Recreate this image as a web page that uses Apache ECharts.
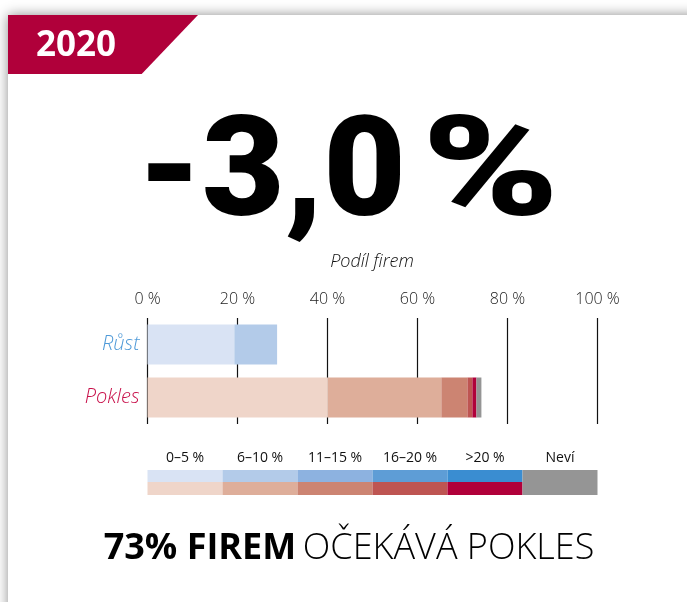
<!DOCTYPE html>
<html>
<head>
<meta charset="utf-8">
<script src="https://cdn.jsdelivr.net/npm/echarts@6/dist/echarts.min.js"></script>
<style>
  html, body { margin: 0; padding: 0; background: #fff; }
  #chart { width: 687px; height: 602px; }
</style>
</head>
<body>
<div id="chart"></div>
<script>
// data
const categories = ['Růst', 'Pokles'];
const bandLabels = ['0–5 %', '6–10 %', '11–15 %', '16–20 %', '>20 %', 'Neví'];
const rustValues = [19.3, 9.5, 0, 0, 0, 0];
const poklesValues = [40.1, 25.2, 5.8, 1.1, 0.9, 1.1];

const blueColors = ['#d9e3f4', '#b3cbe9', '#8db2e0', '#5e9dd6', '#3a8dd1', '#959595'];
const redColors = ['#efd5c9', '#deae9a', '#cc8472', '#be5552', '#b0003a', '#959595'];

let chart = echarts.init(document.getElementById('chart'));

let series = bandLabels.map((name, i) => ({
  name: name,
  type: 'bar',
  stack: 'total',
  barWidth: 40,
  silent: true,
  data: [
    { value: rustValues[i], itemStyle: { color: blueColors[i] } },
    { value: poklesValues[i], itemStyle: { color: redColors[i] } }
  ]
}));

// legend blocks (two rows, grey spans both)
let legendGraphics = [];
let lx = 147.5, lw = 75;
bandLabels.forEach((name, i) => {
  let x = lx + i * lw;
  legendGraphics.push({
    type: 'text', x: x + lw / 2, y: 458,
    style: { text: name, font: '400 14px "Open Sans"', fill: '#111', align: 'center', verticalAlign: 'middle' }
  });
  if (i < 5) {
    legendGraphics.push({ type: 'rect', shape: { x: x, y: 470, width: lw, height: 12 }, style: { fill: blueColors[i] } });
    legendGraphics.push({ type: 'rect', shape: { x: x, y: 482, width: lw, height: 13 }, style: { fill: redColors[i] } });
  } else {
    legendGraphics.push({ type: 'rect', shape: { x: x, y: 470, width: lw, height: 25 }, style: { fill: blueColors[i] } });
  }
});

let option = {
  backgroundColor: '#fff',
  animation: false,
  graphic: [
    {
      type: 'rect', z: -10,
      shape: { x: 8, y: 15, width: 720, height: 640 },
      style: { fill: '#fff', shadowBlur: 12, shadowColor: 'rgba(0,0,0,0.45)' }
    },
    {
      type: 'polygon', z: -5,
      shape: { points: [[8, 15], [198, 15], [141.7, 74], [8, 74]] },
      style: { fill: '#b0003a' }
    },
    {
      type: 'text', x: 76, y: 46,
      style: { text: '2020', font: '700 35px "Open Sans"', fill: '#fff', align: 'center', verticalAlign: 'middle' }
    },
    {
      type: 'text', x: 406, y: 180, scaleX: 1.02, originX: 0,
      style: { text: '-3,0', font: '900 140px Roboto', fill: '#000', align: 'right', verticalAlign: 'middle' }
    },
    {
      type: 'text', x: 422, y: 180, scaleX: 1.32, originX: 0,
      style: { text: '%', font: '900 140px Roboto', fill: '#000', align: 'left', verticalAlign: 'middle' }
    },
    {
      type: 'text', x: 372, y: 262,
      style: { text: 'Podíl firem', font: 'italic 300 18px "Open Sans"', fill: '#111', align: 'center', verticalAlign: 'middle' }
    },
    {
      type: 'text', x: 349, y: 549,
      style: {
        text: '{b|73% FIREM}  {l|OČEKÁVÁ POKLES}',
        align: 'center', verticalAlign: 'middle',
        rich: {
          b: { font: '700 36px "Open Sans"', fill: '#000' },
          l: { font: '300 36px "Open Sans"', fill: '#000' }
        }
      }
    }
  ].concat(legendGraphics),
  grid: { left: 147.5, right: 89.5, top: 318, height: 106 },
  xAxis: {
    type: 'value',
    position: 'top',
    min: 0, max: 100, interval: 20,
    axisLine: { show: false },
    axisTick: { show: false },
    axisLabel: {
      formatter: '{value} %',
      fontFamily: 'Open Sans', fontWeight: 300, fontSize: 16, color: '#222', margin: 11
    },
    splitLine: { lineStyle: { color: '#111', width: 1.2 } }
  },
  yAxis: {
    type: 'category',
    data: categories,
    inverse: true,
    axisLine: { show: false },
    axisTick: { show: false },
    axisLabel: {
      margin: 8,
      fontFamily: 'Open Sans', fontStyle: 'italic', fontWeight: 300, fontSize: 20,
      color: function (v) { return v === 'Růst' ? '#4f9ad8' : '#c8104a'; }
    }
  },
  series: series
};

chart.setOption(option);
</script>
</body>
</html>
